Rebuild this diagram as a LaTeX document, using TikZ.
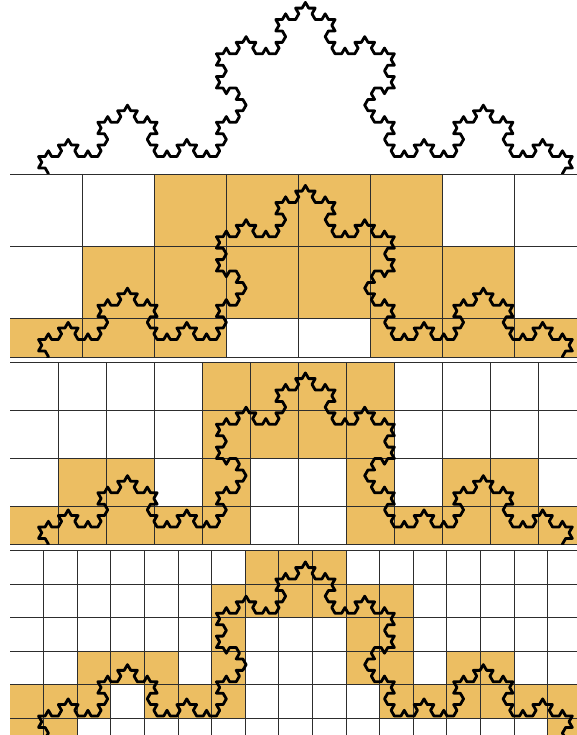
\documentclass[tikz,border=0pt]{standalone}
\usetikzlibrary{lindenmayersystems}

\definecolor{boxfill}{RGB}{236,190,98}
\definecolor{gridgray}{RGB}{45,45,45}

\tikzset{
  kochline/.style={black,line width=2.8pt,line join=round,line cap=round,
    l-system={rule set={F -> F+F--F+F},axiom=F--F--F,order=4,step=6.59pt,angle=60}},
  gridline/.style={gridgray,line width=0.9pt}
}

\begin{document}
\begin{tikzpicture}[x=1pt,y=-1pt]
  \useasboundingbox (0,0) rectangle (577,735);
  \coordinate (tip0) at (38.5,156.5);
  \coordinate (tip1) at (38.5,339.5);
  \coordinate (tip2) at (38.5,527);
  \coordinate (tip3) at (38.5,716);

  % the curve alone
  \begin{scope}
    \clip (0,0) rectangle (577,174);
    \begin{scope}[shift={(tip0)},y=1pt]
      \draw[kochline] (0,0) lindenmayer system;
    \end{scope}
  \end{scope}

  % boxes of size 72
  \begin{scope}
    \clip (9,174) rectangle (577,357);
    \foreach \i/\j in {2/0,3/0,4/0,5/0,1/1,2/1,3/1,4/1,5/1,6/1,0/2,1/2,2/2,5/2,6/2,7/2}
      \fill[boxfill] ({10+72*\i},{174+72*\j}) rectangle +(72,72);
    \foreach \k in {1,...,7}
      \draw[gridline] ({10+72*\k},174) -- ({10+72*\k},357);
    \foreach \y in {174,246,318,357}
      \draw[gridline] (10,\y) -- (577,\y);
    \begin{scope}[shift={(tip1)},y=1pt]
      \draw[kochline] (0,0) lindenmayer system;
    \end{scope}
  \end{scope}

  % boxes of size 48
  \begin{scope}
    \clip (9,362) rectangle (577,544.5);
    \foreach \i/\j in {4/0,5/0,6/0,7/0,4/1,5/1,6/1,7/1,1/2,2/2,4/2,7/2,9/2,10/2,
                       0/3,1/3,2/3,3/3,4/3,7/3,8/3,9/3,10/3,11/3}
      \fill[boxfill] ({10+48*\i},{362+48*\j}) rectangle +(48,48);
    \foreach \k in {1,...,11}
      \draw[gridline] ({10+48*\k},362) -- ({10+48*\k},544.5);
    \foreach \y in {362,410,458,506,544.5}
      \draw[gridline] (10,\y) -- (577,\y);
    \begin{scope}[shift={(tip2)},y=1pt]
      \draw[kochline] (0,0) lindenmayer system;
    \end{scope}
  \end{scope}

  % boxes of size 33.6
  \begin{scope}
    \clip (9,550.5) rectangle (577,735);
    \foreach \i/\j in {7/0,8/0,9/0,6/1,7/1,8/1,9/1,10/1,11/1,6/2,10/2,11/2,
                       2/3,3/3,4/3,6/3,10/3,11/3,13/3,14/3,
                       0/4,1/4,2/4,4/4,5/4,6/4,11/4,12/4,13/4,14/4,15/4,16/4,0/5,1/5,16/5}
      \fill[boxfill] ({10+33.6*\i},{550.5+33.6*\j}) rectangle +(33.6,33.6);
    \foreach \k in {1,...,16}
      \draw[gridline] ({10+33.6*\k},550.5) -- ({10+33.6*\k},735);
    \foreach \j in {0,...,5}
      \draw[gridline] (10,{550.5+33.6*\j}) -- (577,{550.5+33.6*\j});
    \begin{scope}[shift={(tip3)},y=1pt]
      \draw[kochline] (0,0) lindenmayer system;
    \end{scope}
  \end{scope}
\end{tikzpicture}
\end{document}
